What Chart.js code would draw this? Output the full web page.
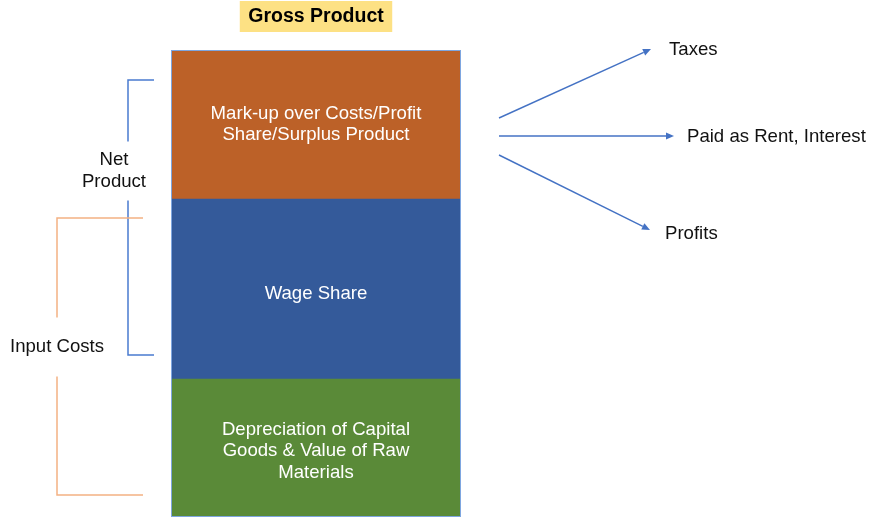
<!DOCTYPE html>
<html>
<head>
<meta charset="utf-8">
<script src="https://cdn.jsdelivr.net/npm/chart.js"></script>
<style>
  html, body { margin: 0; padding: 0; background: #ffffff; }
  #wrap { width: 874px; height: 519px; }
</style>
</head>
<body>
<div id="wrap"><canvas id="chart" width="874" height="519"></canvas></div>
<script>
// --- data (y units = share of gross product, bottom to top) ---
const categories = ['Gross Product'];
const segmentNames = ['Depreciation & Raw Materials', 'Wage Share', 'Mark-up / Surplus'];
const segmentLines = [
  ['Depreciation of Capital', 'Goods & Value of Raw', 'Materials'],
  ['Wage Share'],
  ['Mark-up over Costs/Profit', 'Share/Surplus Product']
];
const segmentValues = [138, 180, 149];
const segmentColors = ['#5a8a38', '#345a9a', '#bc6128'];

// brackets on the left (in y units)
const bracketLabels = [['Net', 'Product'], ['Input Costs']];
const bracketFrom = [162, 22];
const bracketTo = [437, 299];
const bracketLabelAt = [346, 170];

// arrows out of the surplus segment (in y units)
const flowLabels = ['Taxes', 'Paid as Rent, Interest', 'Profits'];
const flowStartY = [399, 381, 362];
const flowEndY = [468, 381, 287];

const FONT = "'Liberation Sans', Arial, Helvetica, sans-serif";

const overlay = {
  id: 'overlay',
  afterDatasetsDraw(chart) {
    const { ctx, chartArea: a, scales: { y } } = chart;
    ctx.save();

    // outline round the whole bar
    ctx.strokeStyle = '#7ea6e0';
    ctx.lineWidth = 1;
    ctx.strokeRect(a.left + 0.5, a.top + 0.5, a.right - a.left - 1, a.bottom - a.top - 1);

    // segment texts (small nudges so they sit like the original text boxes)
    const shift = [3, 5, 0];
    ctx.fillStyle = '#ffffff';
    ctx.font = '18.6px ' + FONT;
    ctx.textAlign = 'center';
    ctx.textBaseline = 'middle';
    segmentLines.forEach((lines, i) => {
      const el = chart.getDatasetMeta(i).data[0];
      const cy = (el.y + el.base) / 2 + shift[i];
      const lh = 21.6;
      lines.forEach((t, k) => ctx.fillText(t, el.x, cy + (k - (lines.length - 1) / 2) * lh));
    });

    // title box
    const cx = (a.left + a.right) / 2;
    ctx.font = 'bold 19.5px ' + FONT;
    const tw = ctx.measureText(categories[0]).width;
    ctx.fillStyle = '#fde184';
    ctx.fillRect(cx - tw / 2 - 8.5, 1, tw + 17, 31);
    ctx.fillStyle = '#000000';
    ctx.fillText(categories[0], cx, 17);

    // brackets
    const bx = [128, 57];
    const bEnd = [154, 143];
    const bCol = ['#4a7bd0', '#f4b183'];
    ctx.font = '18.6px ' + FONT;
    bracketLabels.forEach((lines, i) => {
      const top = y.getPixelForValue(bracketTo[i]);
      const bot = y.getPixelForValue(bracketFrom[i]);
      const ly = y.getPixelForValue(bracketLabelAt[i]);
      const gap = 29.5;
      ctx.strokeStyle = bCol[i];
      ctx.lineWidth = 1.5;
      ctx.beginPath();
      ctx.moveTo(bEnd[i], top); ctx.lineTo(bx[i], top); ctx.lineTo(bx[i], ly - gap);
      ctx.moveTo(bx[i], ly + gap); ctx.lineTo(bx[i], bot); ctx.lineTo(bEnd[i], bot);
      ctx.stroke();
      ctx.fillStyle = '#111111';
      const lh = 22;
      const lx = i === 0 ? 114 : 57;
      lines.forEach((t, k) => ctx.fillText(t, lx, ly + (k - (lines.length - 1) / 2) * lh));
    });

    // arrows
    const x0 = a.right + 38;
    const xEnd = [a.right + 190, a.right + 213, a.right + 189];
    const labelX = [669, 687, 665];
    ctx.strokeStyle = '#4472c4';
    ctx.fillStyle = '#4472c4';
    ctx.lineWidth = 1.4;
    flowLabels.forEach((t, i) => {
      const y0 = y.getPixelForValue(flowStartY[i]);
      const y1 = y.getPixelForValue(flowEndY[i]);
      const x1 = xEnd[i];
      const ang = Math.atan2(y1 - y0, x1 - x0);
      const hl = 8, hw = 3.5;
      const bxp = x1 - hl * Math.cos(ang), byp = y1 - hl * Math.sin(ang);
      ctx.beginPath();
      ctx.moveTo(x0, y0); ctx.lineTo(bxp, byp);
      ctx.stroke();
      ctx.beginPath();
      ctx.moveTo(x1, y1);
      ctx.lineTo(bxp + hw * Math.sin(ang), byp - hw * Math.cos(ang));
      ctx.lineTo(bxp - hw * Math.sin(ang), byp + hw * Math.cos(ang));
      ctx.closePath();
      ctx.fill();
    });
    ctx.fillStyle = '#111111';
    ctx.textAlign = 'left';
    flowLabels.forEach((t, i) => {
      const ty = y.getPixelForValue(flowEndY[i]) + (i === 2 ? 4 : 1);
      ctx.fillText(t, labelX[i], ty);
    });

    ctx.restore();
  }
};

new Chart(document.getElementById('chart'), {
  type: 'bar',
  data: {
    labels: categories,
    datasets: segmentValues.map((v, i) => ({
      label: segmentNames[i],
      data: [v],
      backgroundColor: segmentColors[i],
      borderWidth: 0,
      barPercentage: 1,
      categoryPercentage: 1
    }))
  },
  options: {
    responsive: false,
    animation: false,
    layout: { padding: { left: 171, right: 413, top: 50, bottom: 2 } },
    plugins: {
      legend: { display: false },
      title: { display: false },
      tooltip: { enabled: false }
    },
    scales: {
      x: { stacked: true, display: false },
      y: {
        stacked: true,
        display: false,
        min: 0,
        max: segmentValues.reduce((s, v) => s + v, 0)
      }
    }
  },
  plugins: [overlay]
});
</script>
</body>
</html>
